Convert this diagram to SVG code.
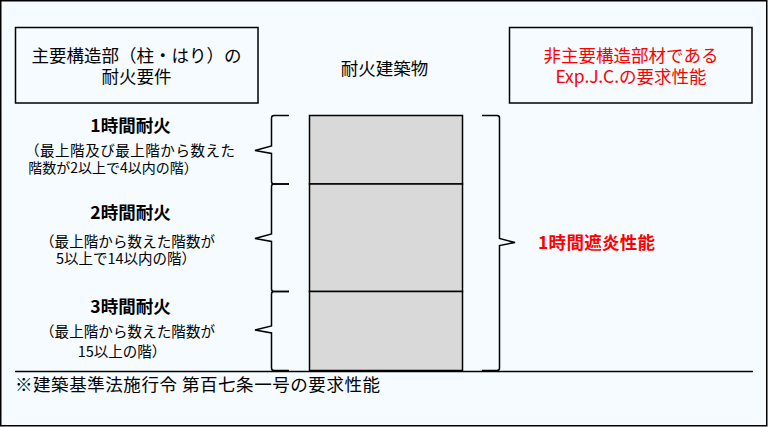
<svg xmlns="http://www.w3.org/2000/svg" width="768" height="427" viewBox="0 0 768 427">
<style>
text{font-family:"Noto Sans CJK JP","Noto Sans",sans-serif;fill:#000}
.t18{font-size:17.5px}
.t14{font-size:14.5px}
.b{font-size:17.5px;font-weight:bold}
.red{fill:#FF0000}
.box{fill:none;stroke:#000;stroke-width:1.5}
.floor{fill:#D9D9D9;stroke:#000;stroke-width:1.5}
.br{fill:none;stroke:#000;stroke-width:1.5;stroke-linejoin:miter}
.ln{stroke:#000;stroke-width:1.5}
</style>
<rect x="0.75" y="0.75" width="766" height="425" fill="#F5FBFE" stroke="#000" stroke-width="1.5"/>

<g id="structural-req">
<rect class="box" x="15.5" y="27.5" width="242.5" height="75.5"/>
<text class="t18" x="136.5" y="61.5" text-anchor="middle">主要構造部（柱・はり）の</text>
<text class="t18" x="136.5" y="82.5" text-anchor="middle">耐火要件</text>
</g>

<g id="building-label">
<text class="t18" x="384.5" y="75" text-anchor="middle">耐火建築物</text>
</g>

<g id="expjc-req">
<rect class="box" x="509.5" y="27.5" width="242.5" height="75.5"/>
<text class="t18 red" x="631" y="61.5" text-anchor="middle">非主要構造部材である</text>
<text class="t18 red" x="631" y="82.5" text-anchor="middle">Exp.J.C.の要求性能</text>
</g>

<g id="building">
<rect class="floor" x="309.5" y="115.5" width="153" height="68.5"/>
<rect class="floor" x="309.5" y="184" width="153" height="107.5"/>
<rect class="floor" x="309.5" y="291.5" width="153" height="79"/>
</g>

<g id="fire1h">
<text class="b" x="130.5" y="132" text-anchor="middle">1時間耐火</text>
<text class="t14" x="25" y="156" textLength="210">（最上階及び最上階から数えた</text>
<text class="t14" x="113" y="173" text-anchor="middle" style="font-size:14px">階数が2以上で4以内の階）</text>
</g>

<g id="fire2h">
<text class="b" x="130.5" y="219" text-anchor="middle">2時間耐火</text>
<text class="t14" x="40" y="246.5" textLength="175">（最上階から数えた階数が</text>
<text class="t14" x="126" y="264" text-anchor="middle">5以上で14以内の階）</text>
</g>

<g id="fire3h">
<text class="b" x="130.5" y="312.5" text-anchor="middle">3時間耐火</text>
<text class="t14" x="40" y="336.5" textLength="175">（最上階から数えた階数が</text>
<text class="t14" x="122" y="357" text-anchor="middle">15以上の階）</text>
</g>

<g id="flame-req">
<text class="b red" x="538" y="249" textLength="117">1時間遮炎性能</text>
</g>

<g id="note">
<text class="t18" x="15" y="391" textLength="365">※建築基準法施行令 第百七条一号の要求性能</text>
</g>

<g id="connectors">
<path class="br" d="M289 115.5 H274 Q271.5 115.5 271.5 118 V146 L255 150.5 L271.5 153.5 V181.5 Q271.5 184 274 184 H289"/>
<path class="br" d="M289 184 H274 Q271.5 184 271.5 186.5 V234 L255 238.5 L271.5 241.5 V289 Q271.5 291.5 274 291.5 H289"/>
<path class="br" d="M289 291.5 H274 Q271.5 291.5 271.5 294 V326 L255 330 L271.5 333 V368 Q271.5 370.5 274 370.5 H289"/>
<path class="br" d="M482 115.5 H497 Q499.5 115.5 499.5 118 V238.5 L515 242.5 L499.5 245.5 V368 Q499.5 370.5 497 370.5 H482"/>
<line class="ln" x1="15" y1="371.5" x2="753" y2="371.5"/>
</g>
</svg>
